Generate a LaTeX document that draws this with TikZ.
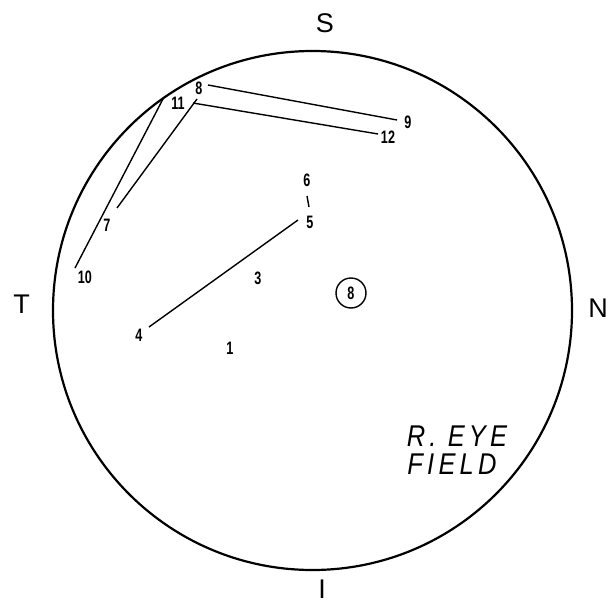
\documentclass[tikz,border=0pt]{standalone}
\usepackage{fontspec}
\setmainfont{Liberation Sans}
\newfontfamily\numfont[FakeStretch=0.7]{Liberation Sans}
\newfontfamily\eyefont[FakeStretch=0.85,LetterSpace=14]{Liberation Sans}

\begin{document}
\begin{tikzpicture}[x=1pt,y=-1pt,
    num/.style={font=\numfont\bfseries\fontsize{18}{18}\selectfont,inner sep=0pt},
    side/.style={font=\fontsize{27}{27}\selectfont,inner sep=0pt},
    eye/.style={font=\eyefont\itshape\fontsize{30}{30}\selectfont,inner sep=0pt},
    track/.style={line width=1.4pt}]
    \useasboundingbox (0,0) rectangle (611,605);

    % Field boundary
    \coordinate (c) at (312.5,310.5);
    \draw[line width=2.2pt] (c) circle (259.5pt);

    % Meridian letters
    \node[side] (s) at (325,23.5) {S};
    \node[side] (t) at (21.5,304) {T};
    \node[side] (n) at (598,308) {N};
    \node[side] (i) at (322,589) {I};

    % Point numbers
    \node[num] (n1) at (230,348) {1};
    \node[num] (n3) at (258,278) {3};
    \node[num] (n4) at (139,335) {4};
    \node[num] (n5) at (310,222) {5};
    \node[num] (n6) at (307,180) {6};
    \node[num] (n7) at (107,225) {7};
    \node[num] (n8) at (199,88) {8};
    \node[num] (n9) at (408,122) {9};
    \node[num] (n10) at (85,277) {10};
    \node[num] (n11) at (178,103) {11};
    \node[num] (n12) at (388,137) {12};
    \node[num,draw,circle,line width=1.4pt,minimum size=30pt] (blind) at (351,293) {8};

    % Track end points
    \coordinate (a8) at (208,85);
    \coordinate (a9) at (397,120);
    \coordinate (a11) at (193,103);
    \coordinate (a12) at (378,134);
    \coordinate (b11) at (197,99);
    \coordinate (a7) at (117,208);
    \coordinate (a10) at (75,268);
    \coordinate (r10) at (163.5,98);
    \coordinate (a6) at (307,196);
    \coordinate (b5) at (309,207);
    \coordinate (a5) at (298,220);
    \coordinate (a4) at (149,327);

    % Tracks
    \draw[track] (a8) -- (a9);
    \draw[track] (a11) -- (a12);
    \draw[track] (b11) -- (a7);
    \draw[track] (a10) -- (r10);
    \draw[track] (a6) -- (b5);
    \draw[track] (a5) -- (a4);

    % Caption
    \node[eye] (eye1) at (457,436) {R. EYE};
    \node[eye] (eye2) at (452,464) {FIELD};
\end{tikzpicture}
\end{document}
